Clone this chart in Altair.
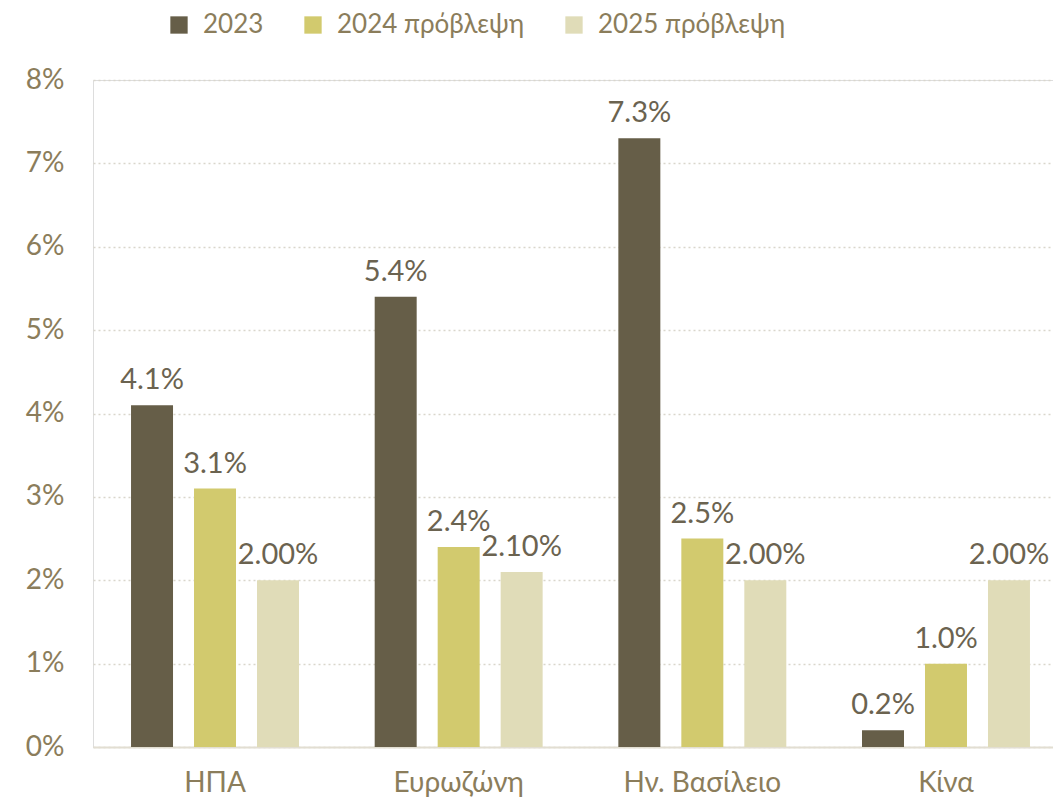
import altair as alt
import pandas as pd

categories = ["ΗΠΑ", "Ευρωζώνη", "Ην. Βασίλειο", "Κίνα"]
series = ["2023", "2024 πρόβλεψη", "2025 πρόβλεψη"]
v2023 = [4.1, 5.4, 7.3, 0.2]
v2024 = [3.1, 2.4, 2.5, 1.0]
v2025 = [2.0, 2.1, 2.0, 2.0]
l2023 = ["4.1%", "5.4%", "7.3%", "0.2%"]
l2024 = ["3.1%", "2.4%", "2.5%", "1.0%"]
l2025 = ["2.00%", "2.10%", "2.00%", "2.00%"]
colors = ["#665E48", "#D2CA6E", "#E0DCB8"]

rows = []
for s, vals, labs in zip(series, [v2023, v2024, v2025], [l2023, l2024, l2025]):
    for c, v, l in zip(categories, vals, labs):
        rows.append({"cat": c, "series": s, "value": v / 100, "label": l})
df = pd.DataFrame(rows)

FONT = "Lato"
AXC = "#8B7D5B"

x = alt.X("cat:N", sort=categories, title=None,
          scale=alt.Scale(paddingInner=0.2245, paddingOuter=0.113, range=[0, 975]),
          axis=alt.Axis(labelAngle=0, labelFontSize=28, labelColor=AXC, labelFont=FONT,
                        labelPadding=22, ticks=False, domain=True, domainColor="#E2DED2",
                        domainWidth=2))
xo = alt.XOffset("series:N", sort=series,
                 scale=alt.Scale(paddingInner=1/3, paddingOuter=1/6))
y = alt.Y("value:Q", title=None,
          scale=alt.Scale(domain=[0, 0.08], nice=False),
          axis=alt.Axis(format=".0%", values=[0, 0.01, 0.02, 0.03, 0.04, 0.05, 0.06, 0.07, 0.08],
                        labelFontSize=28, labelColor=AXC, labelFont=FONT, labelPadding=29,
                        ticks=False, domain=False, grid=True, gridColor="#D9D6CC",
                        gridDash=[2, 3], gridWidth=1.5))

base = alt.Chart(df)
bars = base.mark_bar().encode(
    x=x, xOffset=xo, y=y,
    color=alt.Color("series:N", sort=series, title=None,
                    scale=alt.Scale(domain=series, range=colors),
                    legend=alt.Legend(orient="none", direction="horizontal", legendX=73, legendY=-68,
                                      padding=0, symbolType="square", symbolSize=300,
                                      symbolStrokeWidth=0,
                                      labelFontSize=26, labelColor=AXC, labelFont=FONT, labelLimit=0,
                                      labelOffset=11, columnPadding=36, symbolOpacity=1)),
)
texts = base.mark_text(dy=-10, baseline="bottom", fontSize=29, font=FONT, color="#6B6350").encode(
    x=x, xOffset=xo, y=y, text="label:N")

chart = (bars + texts).properties(
    width=960, height=667,
    padding={"left": 85, "top": 72, "right": 0, "bottom": 56},
    autosize=alt.AutoSizeParams(type="none"),
).configure_view(stroke=None).configure(background="white")

chart.save("out.html", embed_options={"renderer": "svg", "actions": False})
